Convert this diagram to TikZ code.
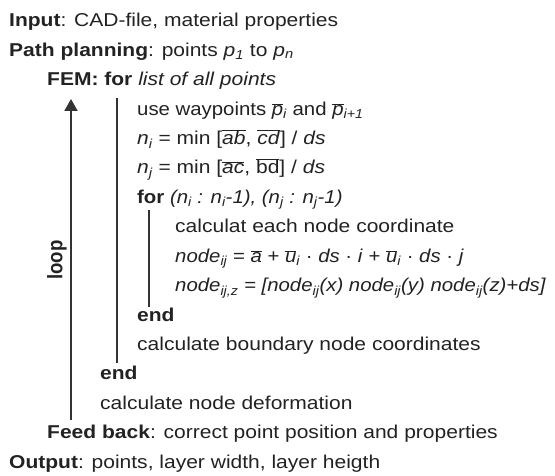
\documentclass[tikz,border=0pt]{standalone}
\usepackage{graphicx}
\usepackage{fontspec}
\setmainfont{Liberation Sans}
\usetikzlibrary{arrows.meta}
\definecolor{txt}{HTML}{222222}
\definecolor{ln}{HTML}{333333}
\newcommand\sbs[1]{\textsubscript{\itshape #1}}
\newcommand\ovl[1]{\ensuremath{\overline{\mbox{#1}}}}
\newcommand\hs[1]{\scalebox{1.13}[1]{#1}}
\newcommand\hsn[1]{\scalebox{1.095}[1]{#1}}
\begin{document}
\begin{tikzpicture}[x=1pt,y=-1pt,
  txtline/.style={anchor=base west, inner sep=0pt, font=\fontsize{18.6}{22}\selectfont, text=txt},
  bar/.style={line width=2pt, draw=ln},
  looparrow/.style={line width=2pt, draw=ln, -{Triangle[width=13pt,length=12pt]}}]
\useasboundingbox (0,0) rectangle (555,476);
\node[txtline] (input) at (9,27) {\hs{\textbf{Input}: CAD-file, material properties}};
\node[txtline] (path) at (9,56.4) {\hs{\textbf{Path planning}: points \textit{p}\sbs{1} to \textit{p}\sbs{n}}};
\node[txtline] (fem) at (47,85.8) {\hs{\textbf{FEM: for} \textit{list of all points}}};
\node[txtline] (use) at (137,115.2) {\hsn{use waypoints \ovl{\textit{p}}\sbs{i} and \ovl{\textit{p}}\sbs{i+1}}};
\node[txtline] (ni) at (137,144.6) {\hs{\textit{n}\sbs{i} = min [\ovl{\textit{ab}}, \ovl{\textit{cd}}] / \textit{ds}}};
\node[txtline] (nj) at (137,174) {\hs{\textit{n}\sbs{j} = min [\ovl{\textit{ac}}, \ovl{bd}] / \textit{ds}}};
\node[txtline] (for) at (137,203.4) {\hsn{\textbf{for} \textit{(n\sbs{i} : n\sbs{i}-1), (n\sbs{j} : n\sbs{j}-1)}}};
\node[txtline] (calc) at (175,232.8) {\hs{calculat each node coordinate}};
\node[txtline] (nodeij) at (175,262.2) {\hsn{\textit{node}\sbs{ij} = \ovl{\textit{a}} + \ovl{\textit{u}}\sbs{i} · \textit{ds} · \textit{i} + \ovl{\textit{u}}\sbs{i} · \textit{ds} · \textit{j}}};
\node[txtline] (nodeijz) at (175,291.6) {\hsn{\textit{node\sbs{ij,z} = [node\sbs{ij}(x) node\sbs{ij}(y) node\sbs{ij}(z)+ds]}}};
\node[txtline] (end1) at (137,321) {\hs{\textbf{end}}};
\node[txtline] (bound) at (137,350.4) {\hs{calculate boundary node coordinates}};
\node[txtline] (end2) at (100,379.8) {\hs{\textbf{end}}};
\node[txtline] (deform) at (100,409.2) {\hs{calculate node deformation}};
\node[txtline] (feed) at (47,438.6) {\hs{\textbf{Feed back}: correct point position and properties}};
\node[txtline] (output) at (9,468) {\hs{\textbf{Output}: points, layer width, layer heigth}};
\coordinate (b1top) at (117,98);
\coordinate (b1bot) at (117,363);
\coordinate (b2top) at (149,210);
\coordinate (b2bot) at (149,307);
\coordinate (abot) at (71,420);
\coordinate (atop) at (71,99);
\draw[bar] (b1top) -- (b1bot);
\draw[bar] (b2top) -- (b2bot);
\draw[looparrow] (abot) -- (atop);
\node[rotate=90, font=\fontsize{18.6}{22}\selectfont\bfseries, text=txt, inner sep=0pt] (loop) at (57,260) {\scalebox{1}[1.13]{loop}};
\end{tikzpicture}
\end{document}
